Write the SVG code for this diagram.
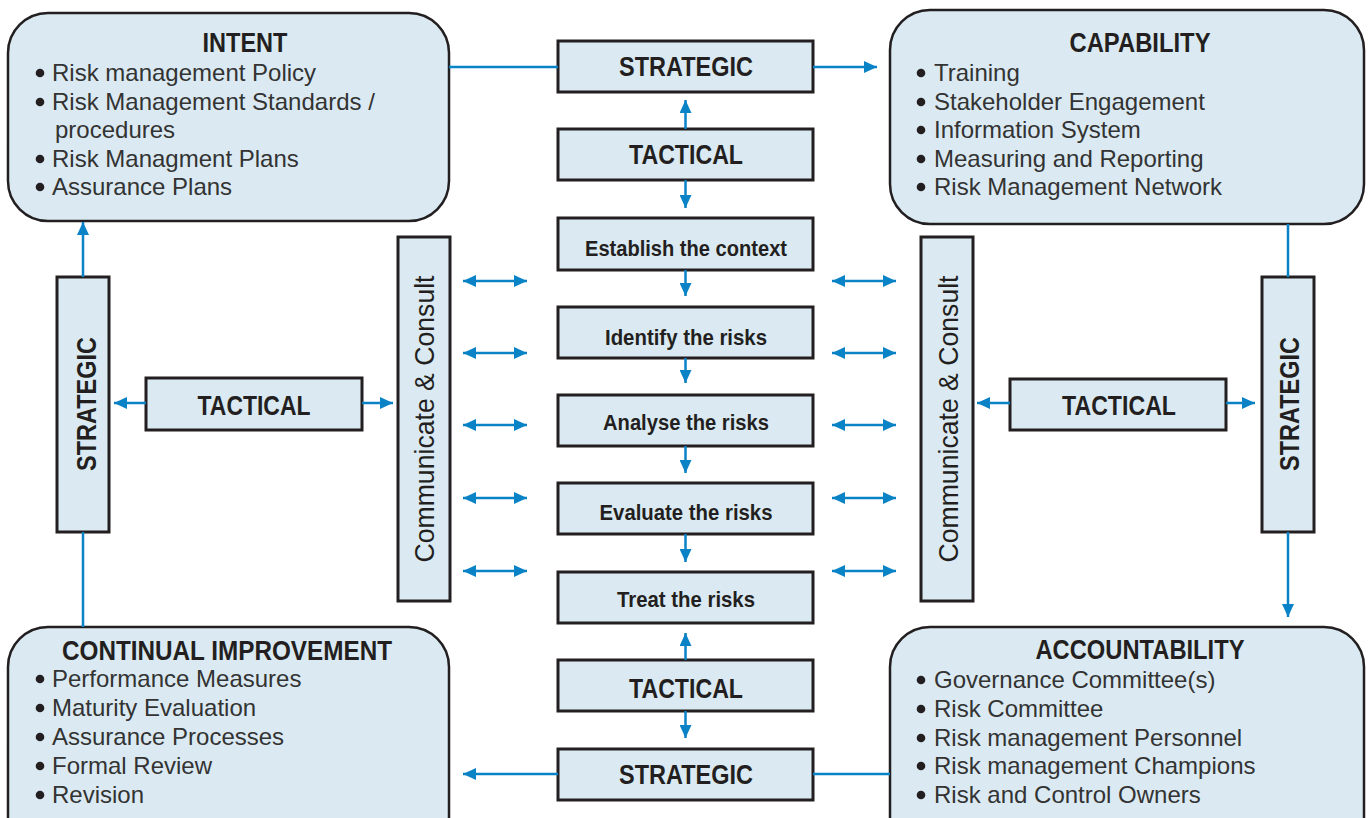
<svg xmlns="http://www.w3.org/2000/svg" width="1370" height="818" viewBox="0 0 1370 818">
<style>
.box{fill:#dbeaf2;stroke:#231f20;stroke-width:3}
.rbox{fill:#dbeaf2;stroke:#231f20;stroke-width:2.5}
.hd{font-family:"Liberation Sans",Arial,sans-serif;font-weight:bold;fill:#231f20;text-anchor:middle}
.lbl{font-family:"Liberation Sans",Arial,sans-serif;font-weight:bold;fill:#231f20;text-anchor:middle}
.cc{font-family:"Liberation Sans",Arial,sans-serif;fill:#231f20;text-anchor:middle;font-size:28px}
.bl{font-family:"Liberation Sans",Arial,sans-serif;fill:#333333;font-size:24px}
.dot{fill:#231f20}
.con path{fill:none;stroke:#0a82c6;stroke-width:2.5}
</style>
<defs>
<marker id="ah" viewBox="0 0 13 12" refX="13" refY="6" markerWidth="13" markerHeight="12" markerUnits="userSpaceOnUse" orient="auto-start-reverse">
<path d="M0,0 L13,6 L0,12 z" fill="#0a82c6"/>
</marker>
</defs>

<g id="intent">
<rect class="rbox" x="8" y="13" width="441" height="208" rx="40"/>
<text class="hd" x="245" y="52" font-size="27" textLength="85" lengthAdjust="spacingAndGlyphs">INTENT</text>
<circle class="dot" cx="40" cy="73" r="4.3"/><text class="bl" x="52" y="81">Risk management Policy</text>
<circle class="dot" cx="40" cy="102" r="4.3"/><text class="bl" x="52" y="110">Risk Management Standards /</text>
<text class="bl" x="55" y="138">procedures</text>
<circle class="dot" cx="40" cy="159" r="4.3"/><text class="bl" x="52" y="167">Risk Managment Plans</text>
<circle class="dot" cx="40" cy="187" r="4.3"/><text class="bl" x="52" y="195">Assurance Plans</text>
</g>

<g id="capability">
<rect class="rbox" x="890" y="10" width="474" height="214" rx="40"/>
<text class="hd" x="1140" y="52" font-size="27" textLength="141" lengthAdjust="spacingAndGlyphs">CAPABILITY</text>
<circle class="dot" cx="921" cy="73" r="4.3"/><text class="bl" x="934" y="81">Training</text>
<circle class="dot" cx="921" cy="102" r="4.3"/><text class="bl" x="934" y="110">Stakeholder Engagement</text>
<circle class="dot" cx="921" cy="130" r="4.3"/><text class="bl" x="934" y="138">Information System</text>
<circle class="dot" cx="921" cy="159" r="4.3"/><text class="bl" x="934" y="167">Measuring and Reporting</text>
<circle class="dot" cx="921" cy="187" r="4.3"/><text class="bl" x="934" y="195">Risk Management Network</text>
</g>

<g id="continual-improvement">
<rect class="rbox" x="8" y="627" width="441" height="240" rx="40"/>
<text class="hd" x="227" y="660" font-size="27" textLength="330" lengthAdjust="spacingAndGlyphs">CONTINUAL IMPROVEMENT</text>
<circle class="dot" cx="40" cy="679" r="4.3"/><text class="bl" x="52" y="687">Performance Measures</text>
<circle class="dot" cx="40" cy="708" r="4.3"/><text class="bl" x="52" y="716">Maturity Evaluation</text>
<circle class="dot" cx="40" cy="737" r="4.3"/><text class="bl" x="52" y="745">Assurance Processes</text>
<circle class="dot" cx="40" cy="766" r="4.3"/><text class="bl" x="52" y="774">Formal Review</text>
<circle class="dot" cx="40" cy="795" r="4.3"/><text class="bl" x="52" y="803">Revision</text>
</g>

<g id="accountability">
<rect class="rbox" x="890" y="627" width="474" height="240" rx="40"/>
<text class="hd" x="1140" y="659" font-size="27" textLength="209" lengthAdjust="spacingAndGlyphs">ACCOUNTABILITY</text>
<circle class="dot" cx="921" cy="680" r="4.3"/><text class="bl" x="934" y="688">Governance Committee(s)</text>
<circle class="dot" cx="921" cy="709" r="4.3"/><text class="bl" x="934" y="717">Risk Committee</text>
<circle class="dot" cx="921" cy="738" r="4.3"/><text class="bl" x="934" y="746">Risk management Personnel</text>
<circle class="dot" cx="921" cy="766" r="4.3"/><text class="bl" x="934" y="774">Risk management Champions</text>
<circle class="dot" cx="921" cy="795" r="4.3"/><text class="bl" x="934" y="803">Risk and Control Owners</text>
</g>

<g id="strategic-top">
<rect class="box" x="558" y="41" width="255" height="51"/>
<text class="lbl" x="686" y="76" font-size="27" textLength="134" lengthAdjust="spacingAndGlyphs">STRATEGIC</text>
</g>
<g id="tactical-top">
<rect class="box" x="558" y="129" width="255" height="51"/>
<text class="lbl" x="686" y="164" font-size="27" textLength="114" lengthAdjust="spacingAndGlyphs">TACTICAL</text>
</g>
<g id="establish">
<rect class="box" x="558" y="218" width="255" height="52"/>
<text class="lbl" x="686" y="256" font-size="22" textLength="202" lengthAdjust="spacingAndGlyphs">Establish the context</text>
</g>
<g id="identify">
<rect class="box" x="558" y="307" width="255" height="51"/>
<text class="lbl" x="686" y="345" font-size="22" textLength="162" lengthAdjust="spacingAndGlyphs">Identify the risks</text>
</g>
<g id="analyse">
<rect class="box" x="558" y="395" width="255" height="51"/>
<text class="lbl" x="686" y="430" font-size="22" textLength="166" lengthAdjust="spacingAndGlyphs">Analyse the risks</text>
</g>
<g id="evaluate">
<rect class="box" x="558" y="483" width="255" height="51"/>
<text class="lbl" x="686" y="520" font-size="22" textLength="173" lengthAdjust="spacingAndGlyphs">Evaluate the risks</text>
</g>
<g id="treat">
<rect class="box" x="558" y="572" width="255" height="51"/>
<text class="lbl" x="686" y="607" font-size="22" textLength="138" lengthAdjust="spacingAndGlyphs">Treat the risks</text>
</g>
<g id="tactical-bottom">
<rect class="box" x="558" y="660" width="255" height="51"/>
<text class="lbl" x="686" y="698" font-size="27" textLength="114" lengthAdjust="spacingAndGlyphs">TACTICAL</text>
</g>
<g id="strategic-bottom">
<rect class="box" x="558" y="749" width="255" height="51"/>
<text class="lbl" x="686" y="784" font-size="27" textLength="134" lengthAdjust="spacingAndGlyphs">STRATEGIC</text>
</g>

<g id="strategic-left">
<rect class="box" x="57" y="277" width="52" height="255"/>
<text class="lbl" transform="translate(96,404) rotate(-90)" font-size="27" textLength="134" lengthAdjust="spacingAndGlyphs">STRATEGIC</text>
</g>
<g id="tactical-left">
<rect class="box" x="146" y="378" width="216" height="52"/>
<text class="lbl" x="254" y="415" font-size="27" textLength="113" lengthAdjust="spacingAndGlyphs">TACTICAL</text>
</g>
<g id="communicate-left">
<rect class="box" x="398" y="237" width="52" height="364"/>
<text class="cc" transform="translate(434,419) rotate(-90)" textLength="287" lengthAdjust="spacingAndGlyphs">Communicate &amp; Consult</text>
</g>
<g id="communicate-right">
<rect class="box" x="921" y="237" width="52" height="364"/>
<text class="cc" transform="translate(958,419) rotate(-90)" textLength="287" lengthAdjust="spacingAndGlyphs">Communicate &amp; Consult</text>
</g>
<g id="tactical-right">
<rect class="box" x="1010" y="379" width="216" height="51"/>
<text class="lbl" x="1119" y="415" font-size="27" textLength="114" lengthAdjust="spacingAndGlyphs">TACTICAL</text>
</g>
<g id="strategic-right">
<rect class="box" x="1262" y="277" width="52" height="255"/>
<text class="lbl" transform="translate(1299,404) rotate(-90)" font-size="27" textLength="134" lengthAdjust="spacingAndGlyphs">STRATEGIC</text>
</g>

<g id="connectors" class="con">
<path d="M449,67 H558"/>
<path d="M813,67 H877" marker-end="url(#ah)"/>
<path d="M685.5,129 V100" marker-end="url(#ah)"/>
<path d="M685.5,180 V208" marker-end="url(#ah)"/>
<path d="M685.5,270 V296" marker-end="url(#ah)"/>
<path d="M685.5,358 V383" marker-end="url(#ah)"/>
<path d="M685.5,446 V473" marker-end="url(#ah)"/>
<path d="M685.5,534 V562" marker-end="url(#ah)"/>
<path d="M685.5,660 V633" marker-end="url(#ah)"/>
<path d="M685.5,711 V738" marker-end="url(#ah)"/>
<path d="M558,774 H463" marker-end="url(#ah)"/>
<path d="M890,774 H813"/>
<path d="M83,277 V222" marker-end="url(#ah)"/>
<path d="M83,627 V532"/>
<path d="M146,403 H114" marker-end="url(#ah)"/>
<path d="M362,403 H393" marker-end="url(#ah)"/>
<path d="M1010,403 H977" marker-end="url(#ah)"/>
<path d="M1226,403 H1255" marker-end="url(#ah)"/>
<path d="M1288,224 V277"/>
<path d="M1288,532 V617" marker-end="url(#ah)"/>
<path d="M463,281 H527" marker-start="url(#ah)" marker-end="url(#ah)"/>
<path d="M463,353 H527" marker-start="url(#ah)" marker-end="url(#ah)"/>
<path d="M463,425 H527" marker-start="url(#ah)" marker-end="url(#ah)"/>
<path d="M463,498 H527" marker-start="url(#ah)" marker-end="url(#ah)"/>
<path d="M463,571 H527" marker-start="url(#ah)" marker-end="url(#ah)"/>
<path d="M832,281 H896" marker-start="url(#ah)" marker-end="url(#ah)"/>
<path d="M832,353 H896" marker-start="url(#ah)" marker-end="url(#ah)"/>
<path d="M832,425 H896" marker-start="url(#ah)" marker-end="url(#ah)"/>
<path d="M832,498 H896" marker-start="url(#ah)" marker-end="url(#ah)"/>
<path d="M832,571 H896" marker-start="url(#ah)" marker-end="url(#ah)"/>
</g>
</svg>
